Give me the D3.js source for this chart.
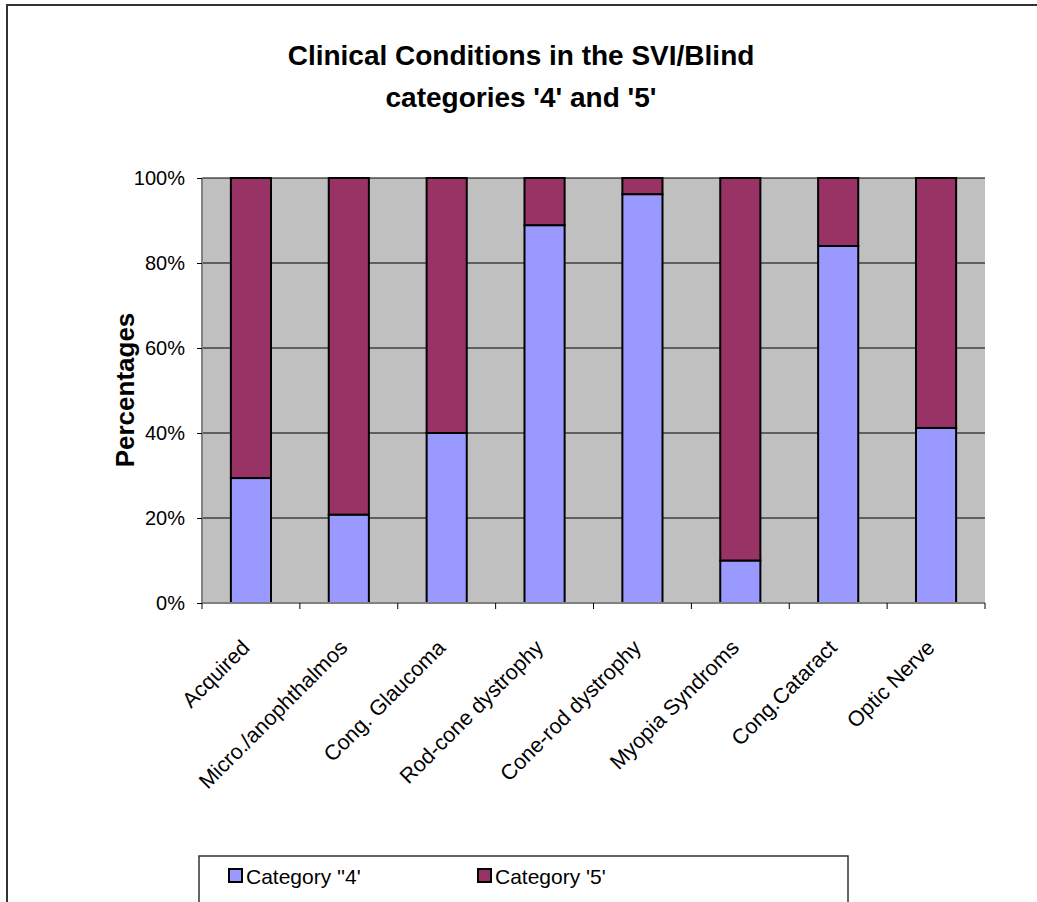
<!DOCTYPE html>
<html>
<head>
<meta charset="utf-8">
<script src="https://cdn.jsdelivr.net/npm/d3@7"></script>
<style>
  body { margin: 0; background: #fff; }
  svg text { font-family: "Liberation Sans", Arial, sans-serif; }
</style>
</head>
<body>
<div id="chart"></div>
<script>
// chart data
const categories = ["Acquired", "Micro./anophthalmos", "Cong. Glaucoma", "Rod-cone dystrophy",
  "Cone-rod dystrophy", "Myopia Syndroms", "Cong.Cataract", "Optic Nerve"];
const cat4 = [29.4, 20.8, 40.0, 88.9, 96.2, 10.0, 84.0, 41.2];
const cat5 = [70.6, 79.2, 60.0, 11.1, 3.8, 90.0, 16.0, 58.8];
const seriesNames = ["Category ''4'", "Category '5'"];
const colors = ["#9999FF", "#993366"];
const yTicks = [0, 20, 40, 60, 80, 100];

const width = 1037, height = 902;
const margin = { top: 178, left: 202, right: 52, bottom: 299 };
const plotW = width - margin.left - margin.right;
const plotH = height - margin.top - margin.bottom;

const svg = d3.select("#chart").append("svg")
  .attr("width", width)
  .attr("height", height);

// outer chart frame (runs off the right and bottom of the picture)
svg.append("rect")
  .attr("x", 7).attr("y", 5)
  .attr("width", 1100).attr("height", 1000)
  .attr("fill", "none")
  .attr("stroke", "#333")
  .attr("stroke-width", 2);

// title
const title = svg.append("text")
  .attr("text-anchor", "middle")
  .attr("font-size", 28)
  .attr("font-weight", "bold");
title.append("tspan").attr("x", 521).attr("y", 65).text("Clinical Conditions in the SVI/Blind");
title.append("tspan").attr("x", 521).attr("y", 107).text("categories '4' and '5'");

const g = svg.append("g").attr("transform", `translate(${margin.left},${margin.top})`);

let xScale = d3.scaleBand().domain(categories).range([0, plotW]).paddingInner(0.59).paddingOuter(0.295);
let xTick = d3.scaleBand().domain(categories).range([0, plotW]);
let yScale = d3.scaleLinear().domain([0, 100]).range([plotH, 0]);

// plot background
g.append("rect")
  .attr("width", plotW).attr("height", plotH)
  .attr("fill", "#C0C0C0");

// grid lines
g.selectAll(".grid")
  .data(yTicks.filter(d => d > 0))
  .enter()
  .append("line")
  .attr("x1", 0).attr("x2", plotW)
  .attr("y1", d => yScale(d)).attr("y2", d => yScale(d))
  .attr("stroke", "#000")
  .attr("stroke-width", 1);

// stack the two series
const rows = categories.map((c, i) => ({ name: c, c4: cat4[i], c5: cat5[i] }));
const stacked = d3.stack().keys(["c4", "c5"]).offset(d3.stackOffsetExpand)(rows);

g.selectAll(".series")
  .data(stacked)
  .enter()
  .append("g")
  .attr("fill", (d, i) => colors[i])
  .selectAll("rect")
  .data(d => d)
  .enter()
  .append("rect")
  .attr("x", d => xScale(d.data.name))
  .attr("width", xScale.bandwidth())
  .attr("y", d => yScale(d[1] * 100))
  .attr("height", d => yScale(d[0] * 100) - yScale(d[1] * 100))
  .attr("stroke", "#000")
  .attr("stroke-width", 2);

// y axis
let yAxis = d3.axisLeft(yScale).tickValues(yTicks).tickSize(5).tickFormat(d => d + "%");
const yG = g.append("g").call(yAxis);
yG.select(".domain").attr("stroke", "#808080").attr("stroke-width", 2).attr("d", `M0,0V${plotH}`);
yG.selectAll(".tick line").attr("stroke", "#000");
yG.selectAll("text").attr("font-size", 20).attr("fill", "#000").attr("x", -17);

// x axis ticks on category boundaries
const xAxisG = g.append("g").attr("transform", `translate(0,${plotH})`);
xAxisG.append("line")
  .attr("x1", 0).attr("x2", plotW)
  .attr("stroke", "#808080").attr("stroke-width", 2);
xAxisG.selectAll(".xtick")
  .data(categories.map(c => xTick(c)).concat([plotW]))
  .enter()
  .append("line")
  .attr("x1", d => d).attr("x2", d => d)
  .attr("y1", 0).attr("y2", 6)
  .attr("stroke", "#000");
xAxisG.selectAll(".xlabel")
  .data(categories)
  .enter()
  .append("text")
  .attr("transform", d => `translate(${xTick(d) + xTick.bandwidth() / 2},${46}) rotate(-45)`)
  .attr("text-anchor", "end")
  .attr("font-size", 21.5)
  .text(d => d);

// y axis title
svg.append("text")
  .attr("transform", "translate(134,390) rotate(-90)")
  .attr("text-anchor", "middle")
  .attr("font-size", 26)
  .attr("font-weight", "bold")
  .text("Percentages");

// legend
const legend = svg.append("g");
legend.append("rect")
  .attr("x", 199).attr("y", 856)
  .attr("width", 649).attr("height", 80)
  .attr("fill", "#fff")
  .attr("stroke", "#333")
  .attr("stroke-width", 1.5);
const legendX = [229, 478];
seriesNames.forEach((name, i) => {
  legend.append("rect")
    .attr("x", legendX[i]).attr("y", 869)
    .attr("width", 13).attr("height", 13)
    .attr("fill", colors[i])
    .attr("stroke", "#000").attr("stroke-width", 2);
  legend.append("text")
    .attr("x", legendX[i] + 17).attr("y", 884)
    .attr("font-size", 21)
    .text(name);
});
</script>
</body>
</html>
